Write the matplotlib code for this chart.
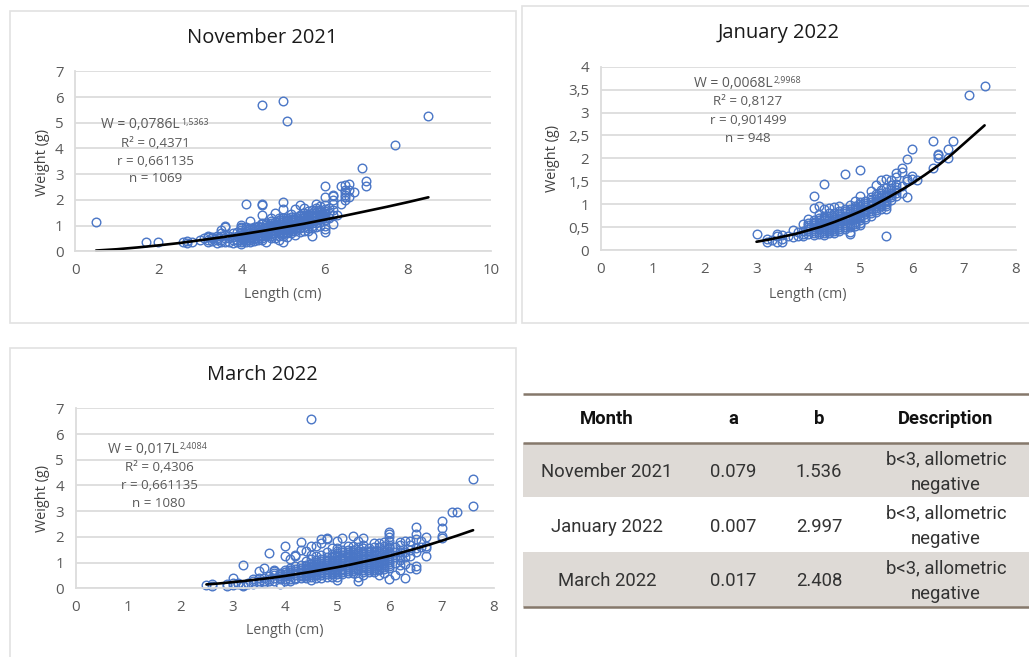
import matplotlib
matplotlib.use("Agg")
import matplotlib.pyplot as plt
from matplotlib.patches import Rectangle

W, H = 1029, 657
BLUE = "#4A76C6"
GRID = "#DCDCDC"
TXT = "#595959"

# length (cm) -> weights (g)
nov_lengths = [0.5,1.7,2.0,2.6,2.7,2.8,3.0,3.1,3.2,3.3,3.4,3.5,3.6,3.7,3.8,3.9,4.0,4.1,4.2,4.3,4.4,4.5,4.6,4.7,4.8,4.9,
               5.0,5.1,5.2,5.3,5.4,5.5,5.6,5.7,5.8,5.9,6.0,6.1,6.2,6.3,6.4,6.5,6.6,6.7,6.9,7.0,7.7,8.5]
nov_weights = [[1.13],[.35],[.35],[.35],[.33,.4],[.36],[.42],[.5],[.35,.45,.55,.6],[.4,.5,.55],[.32,.42,.52,.6],
               [.35,.45,.6,.7,.82],[.35,.5,.65,.95,1.0],[.38,.5,.6],[.33,.42,.55,.7],[.35,.45,.6,.75],
               [.3,.36,.42,.5,.56,.62,.7,.76,.82,.9,.96,1.02],[.35,.45,.52,.58,.65,.72,.78,.85,.95,1.82],
               [.38,.45,.5,.56,.62,.7,.76,.82,.9,1.18],[.4,.46,.52,.6,.66,.72,.8,.86,.95],
               [.45,.52,.58,.65,.7,.76,.82,.88,.95,1.0],[.45,.52,.58,.65,.7,.76,.82,.88,.95,1.05,1.1,1.4,1.8,1.82,5.67],
               [.38,.6,.66,.72,.78,.84,.9,.96,1.02,1.1],[.5,.6,.66,.72,.78,.84,.9,.96,1.02,1.1,1.16,1.3],
               [.5,.65,.72,.78,.84,.9,.96,1.02,1.08,1.15,1.5],[.45,.6,.7,.76,.82,.88,.94,1.0,1.06,1.12,1.2,1.3],
               [.36,.6,.7,.76,.82,.88,.94,1.0,1.06,1.12,1.2,1.3,1.65,1.93,5.84],
               [.55,.7,.76,.82,.9,.96,1.02,1.1,1.16,1.22,1.3,5.08],[.7,.8,.86,.92,1.0,1.06,1.12,1.2,1.26,1.35,1.45],
               [.65,.8,.86,.92,1.0,1.06,1.12,1.2,1.26,1.32,1.65],[.75,.9,.96,1.02,1.1,1.16,1.22,1.3,1.36,1.42,1.8],
               [.8,.95,1.05,1.1,1.15,1.22,1.28,1.35,1.42,1.5,1.7],[.8,.9,1.0,1.06,1.12,1.2,1.26,1.32,1.4,1.46,1.55],
               [.58,.9,1.0,1.1,1.16,1.22,1.3,1.36,1.42,1.5,1.6],[.95,1.1,1.2,1.28,1.35,1.42,1.5,1.6,1.7,1.85],
               [1.0,1.15,1.25,1.3,1.38,1.45,1.52,1.6,1.75],[.75,.85,1.0,1.2,1.3,1.38,1.45,1.5,1.58,1.65,1.8,2.1,2.55],
               [1.3,1.5,1.7],[1.05,1.4,1.6,1.85,2.0,2.15,2.2],[1.42],
               [1.85,2.55],[2.0,2.1,2.2,2.3,2.4,2.58],[2.1,2.4,2.62],[2.3],[3.23],[2.55,2.72],[4.12],[5.26]]
nov_fit_x = [.5,1,1.5,2,2.5,3,3.5,4,4.5,5,5.5,6,6.5,7,7.5,8,8.5]
nov_fit_y = [.03,.08,.15,.23,.32,.43,.54,.66,.79,.93,1.07,1.23,1.39,1.56,1.73,1.91,2.1]

jan_lengths = [3.0,3.2,3.3,3.4,3.5,3.6,3.7,3.8,3.9,4.0,4.1,4.2,4.3,4.4,4.5,4.6,4.7,4.8,4.9,5.0,5.1,5.2,5.3,5.4,5.5,
               5.6,5.7,5.8,5.9,6.0,6.1,6.4,6.5,6.7,6.8,7.1,7.4]
jan_weights = [[.34],[.17,.25],[.22],[.18,.3,.36],[.18,.24,.32],[.3],[.28,.43],[.3,.4],[.3,.36,.42,.57],
               [.35,.42,.46,.5,.54,.58,.68],[.32,.38,.42,.46,.5,.54,.58,.62,.66,.92,1.18],
               [.35,.4,.45,.5,.55,.6,.65,.7,.78,.96],[.33,.38,.42,.46,.5,.55,.6,.65,.7,.75,.9,1.44],
               [.37,.42,.46,.5,.55,.6,.65,.7,.75,.8,.92],[.38,.42,.46,.5,.55,.6,.64,.68,.72,.76,.8,.94],
               [.42,.46,.5,.55,.6,.65,.7,.75,.8,.85,.95],[.45,.5,.55,.6,.65,.7,.75,.8,.85,.9,1.66],
               [.36,.4,.5,.55,.6,.65,.7,.75,.8,.85,.9,.98],[.52,.57,.62,.67,.72,.77,.82,.87,.92,.97,1.08],
               [.55,.6,.65,.7,.75,.8,.85,.9,.95,1.0,1.05,1.18,1.75],[.68,.73,.78,.83,.88,.93,.98,1.03,1.08],
               [.75,.8,.85,.9,.95,1.0,1.05,1.1,1.15,1.28],[.82,.87,.92,.97,1.02,1.07,1.12,1.17,1.22,1.42],
               [.9,.95,1.0,1.05,1.1,1.15,1.2,1.25,1.3,1.52],[.3,.9,.95,1.0,1.05,1.1,1.15,1.2,1.27,1.35,1.55],
               [1.1,1.15,1.2,1.25,1.3,1.36,1.42,1.52],[1.18,1.24,1.3,1.37,1.45,1.6,1.68],
               [1.25,1.4,1.7,1.8],[1.15,1.5,1.55,1.98],[1.55,1.62,2.2],[1.52],[1.8,2.38],[2.0,2.08,2.1],[2.0,2.2],[2.37],[3.39],[3.58]]
jan_fit_x = [3,3.25,3.5,3.75,4,4.25,4.5,4.75,5,5.25,5.5,5.75,6,6.25,6.5,6.75,7,7.2,7.4]
jan_fit_y = [.18,.23,.29,.35,.43,.51,.61,.72,.84,.97,1.12,1.28,1.45,1.64,1.84,2.07,2.32,2.52,2.72]

mar_lengths = [2.5,2.6,2.9,3.0,3.1,3.2,3.3,3.4,3.5,3.6,3.7,3.8,3.9,4.0,4.1,4.2,4.3,4.4,4.5,4.6,4.7,4.8,4.9,5.0,5.1,5.2,
               5.3,5.4,5.5,5.6,5.7,5.8,5.9,6.0,6.1,6.2,6.3,6.4,6.5,6.6,6.7,7.0,7.2,7.3,7.6]
mar_weights = [[.13],[.1,.15],[.1,.17],[.12,.2,.42],[.15,.22],[.08,.13,.9],[.15,.22],[.18,.28,.38],[.2,.3,.4,.68],
               [.2,.3,.42,.78],[.28,.38,.48,1.37],[.3,.4,.5,.6,.68,.72],[.18,.35,.42,.48,.55,.6],
               [.3,.38,.46,.55,.62,.7,1.27,1.66],[.3,.38,.46,.54,.62,.7,.8,1.15],[.35,.42,.5,.58,.66,.74,.85,1.25,1.3],
               [.4,.46,.52,.58,.65,.72,.78,.9,1.5,1.8],[.4,.46,.52,.58,.65,.72,.78,.85,.92,1.05,1.45],
               [.32,.45,.52,.58,.64,.7,.76,.82,.88,.94,1.0,1.15,1.3,1.65,6.6],
               [.42,.5,.56,.62,.68,.75,.82,.88,.96,1.04,1.1,1.25,1.65],[.4,.5,.58,.65,.72,.78,.85,.92,1.0,1.08,1.15,1.3,1.75,1.9],
               [.45,.55,.62,.7,.76,.83,.9,.98,1.05,1.12,1.2,1.4,1.93,1.97],[.45,.55,.62,.7,.77,.84,.9,.98,1.05,1.12,1.2,1.35,1.55],
               [.32,.45,.55,.62,.7,.76,.84,.9,.98,1.05,1.12,1.2,1.28,1.36,1.44,1.55,1.85],
               [.55,.62,.7,.77,.85,.92,1.0,1.07,1.15,1.22,1.3,1.4,1.5,1.95],
               [.6,.67,.75,.82,.9,.97,1.05,1.12,1.2,1.27,1.35,1.42,1.5,1.65],
               [.6,.67,.75,.82,.9,.97,1.05,1.12,1.2,1.27,1.35,1.42,1.5,1.65,2.05],
               [.3,.45,.7,.77,.85,.92,1.0,1.07,1.15,1.22,1.3,1.37,1.45,1.6,1.85],
               [.5,.65,.72,.8,.87,.95,1.02,1.1,1.17,1.25,1.32,1.4,1.47,1.55,1.7,1.97],
               [.65,.72,.8,.87,.95,1.02,1.1,1.17,1.25,1.32,1.4,1.47,1.55],
               [.65,.72,.8,.87,.95,1.02,1.1,1.17,1.25,1.32,1.4,1.47,1.6,1.75],[.5,.7,.77,.85,.92,1.0,1.07,1.15,1.22,1.3,1.37,1.45,1.6,1.75],
               [.6,.75,.82,.9,.97,1.05,1.12,1.2,1.27,1.35,1.42,1.5,1.65,1.8],
               [.38,.8,.88,.95,1.02,1.1,1.17,1.25,1.32,1.4,1.47,1.55,1.62,1.7,1.85,2.0,2.1,2.2],
               [.5,1.0,1.2,1.4,1.6],[.7,.9,1.1,1.2,1.3,1.4,1.5,1.7,1.8],[.4,.95,1.2,1.4,1.85],[.8,1.25,1.5,1.7,1.85],
               [.75,.85,1.4,1.55,1.9,2.1,2.4],[1.6,1.85],[1.25,1.55,1.65,2.0],[1.95,2.05,2.33,2.6],[2.97],[2.95],[3.22,4.24]]
mar_fit_x = [2.5,2.75,3,3.25,3.5,3.75,4,4.25,4.5,4.75,5,5.25,5.5,5.75,6,6.25,6.5,6.75,7,7.3,7.6]
mar_fit_y = [.15,.19,.24,.29,.35,.41,.48,.56,.64,.73,.82,.92,1.03,1.14,1.26,1.4,1.54,1.69,1.85,2.05,2.26]

nov_ticks_y = [0,1,2,3,4,5,6,7]
jan_ticks_y = [0,.5,1,1.5,2,2.5,3,3.5,4]
jan_ylabels = ["0","0,5","1","1,5","2","2,5","3","3,5","4"]

table_header = ["Month","a","b","Description"]
table_month = ["November 2021","January 2022","March 2022"]
table_a = ["0.079","0.007","0.017"]
table_b = ["1.536","2.997","2.408"]
table_desc = ["b<3, allometric\nnegative"]*3

plt.rcParams["font.family"] = ["Open Sans", "DejaVu Sans"]
fig = plt.figure(figsize=(W/100, H/100), dpi=100, facecolor="white")

# overlays in pixel coordinates for frames, table and annotations
bg = fig.add_axes([0, 0, 1, 1], zorder=0)
fg = fig.add_axes([0, 0, 1, 1], zorder=5, facecolor="none")
for a in (bg, fg):
    a.set_xlim(0, W); a.set_ylim(H, 0); a.axis("off")

def frame(x0, y0, x1, y1):
    bg.add_patch(Rectangle((x0, y0), x1-x0, y1-y0, fc="white", ec="#E2E2E2", lw=1.2))

frame(10, 11, 516, 323)
frame(522, 6, 1035, 323)
frame(10, 348, 516, 665)

def panel(box, xmax, xstep, ylim, yticks, ylabels, lengths, weights, fx, fy, title, title_xy,
          eq_lines, eq_sup, eq_right, eq_cx, eq_ys, sup_xy, xlab_xy, ylab_xy):
    l, t, r, b = box
    ax = fig.add_axes([l/W, 1-b/H, (r-l)/W, (b-t)/H], zorder=2, facecolor="none")
    xs, ys = [], []
    for L, ws in zip(lengths, weights):
        for w in ws:
            xs.append(L); ys.append(w)
    ax.set_xlim(0, xmax); ax.set_ylim(0, ylim)
    ax.set_xticks(list(range(0, xmax+1, xstep)))
    ax.set_yticks(yticks); ax.set_yticklabels(ylabels)
    ax.grid(axis="y", color=GRID, lw=1.3); ax.set_axisbelow(True)
    for s in ["top", "right"]:
        ax.spines[s].set_visible(False)
    for s in ["left", "bottom"]:
        ax.spines[s].set_color(GRID); ax.spines[s].set_linewidth(1.3)
    ax.tick_params(length=0, labelsize=10.8, labelcolor=TXT, pad=8.5)
    ax.plot(xs, ys, ls="none", marker="o", ms=6.2, mfc="none", mec=BLUE, mew=1.0, clip_on=False)
    ax.plot(fx, fy, color="black", lw=1.9, clip_on=False, solid_capstyle="round")
    fg.text(*title_xy, title, ha="center", va="center", fontsize=14.5, color="#1A1A1A")
    fg.text(*xlab_xy, "Length (cm)", ha="center", va="center", fontsize=10.2, color=TXT)
    fg.text(*ylab_xy, "Weight (g)", ha="center", va="center", rotation=90, fontsize=10.4, color="#404040")
    fg.text(eq_right, eq_ys[0], eq_lines[0], ha="right", va="center", fontsize=10, color=TXT)
    for line, y in zip(eq_lines[1:], eq_ys[1:]):
        fg.text(eq_cx, y, line, ha="center", va="center", fontsize=9.6, color=TXT)
    fg.text(*sup_xy, eq_sup, ha="left", va="center", fontsize=6.4, color=TXT)

panel((75.3, 71.3, 490.7, 251.3), 10, 2, 7, nov_ticks_y, [str(v) for v in nov_ticks_y],
      nov_lengths, nov_weights, nov_fit_x, nov_fit_y, "November 2021", (262, 38),
      ["W = 0,0786L", "R² = 0,4371", "r = 0,661135", "n = 1069"], "1,5363",
      180, 155.5, [125, 143.3, 161.3, 179], (181, 122), (283, 294), (42, 162))

panel((601, 66.7, 1015.7, 250), 8, 1, 4, jan_ticks_y, jan_ylabels,
      jan_lengths, jan_weights, jan_fit_x, jan_fit_y, "January 2022", (779, 33),
      ["W = 0,0068L", "R² = 0,8127", "r = 0,901499", "n = 948"], "2,9968",
      773, 748, [83.3, 101.7, 120, 138.3], (773.5, 81), (808, 294), (553, 159))

panel((75.7, 408.3, 494, 588.3), 8, 1, 7, nov_ticks_y, [str(v) for v in nov_ticks_y],
      mar_lengths, mar_weights, mar_fit_x, mar_fit_y, "March 2022", (262, 375),
      ["W = 0,017L", "R² = 0,4306", "r = 0,661135", "n = 1080"], "2,4084",
      179, 159, [449.3, 467.7, 485.7, 503.7], (179.5, 446.7), (285, 631), (42, 499))

# table
TBL_L, TBL_R = 523, 1029
row_edges = [442.5, 497, 552, 607]
col_x = [607, 733, 819, 946]
RULE = "#85786B"
for i in (0, 2):
    bg.add_patch(Rectangle((TBL_L, row_edges[i]), TBL_R-TBL_L, row_edges[i+1]-row_edges[i], fc="#DEDAD6", ec="none"))
for y, w in [(393.5, 1.8), (443, 1.8), (607, 1.8)]:
    bg.plot([TBL_L, TBL_R], [y, y], color=RULE, lw=w, solid_capstyle="butt")
for x, h in zip(col_x, table_header):
    bg.text(x, 419, h, ha="center", va="center", fontsize=13.3, fontweight="bold",
            family=["Roboto", "DejaVu Sans"], color="#111111")
for i in range(3):
    yc = (row_edges[i] + row_edges[i+1]) / 2
    for x, s in zip(col_x, [table_month[i], table_a[i], table_b[i], table_desc[i]]):
        bg.text(x, yc + 2, s, ha="center", va="center", fontsize=13.3, linespacing=1.55,
                family=["Roboto", "DejaVu Sans"], color="#333333")

for a in (bg, fg):
    a.set_xlim(0, W); a.set_ylim(H, 0)
fig.savefig("out.png", dpi=100)
